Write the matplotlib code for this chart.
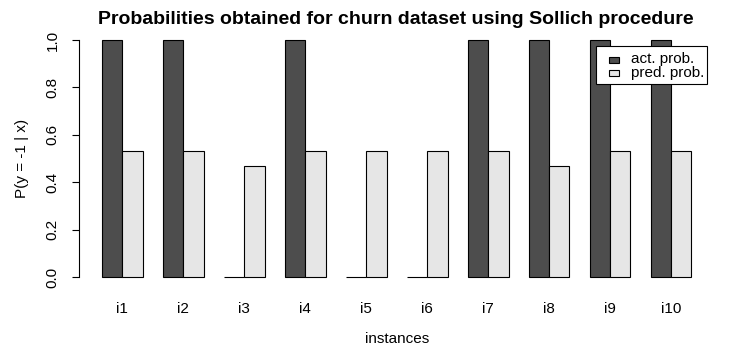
import matplotlib
matplotlib.use("Agg")
import matplotlib.pyplot as plt
from matplotlib.patches import Rectangle
import numpy as np

plt.rcParams['font.family'] = ['Liberation Sans', 'DejaVu Sans']

instances = ["i1", "i2", "i3", "i4", "i5", "i6", "i7", "i8", "i9", "i10"]
act_prob = [1, 1, 0, 1, 0, 0, 1, 1, 1, 1]
pred_prob = [0.533, 0.533, 0.467, 0.533, 0.533, 0.533, 0.533, 0.467, 0.533, 0.533]
series_names = ["act. prob.", "pred. prob."]
yticks = [0.0, 0.2, 0.4, 0.6, 0.8, 1.0]

W, H = 755, 359
fig = plt.figure(figsize=(W / 100, H / 100), dpi=100)
left, right, top, bottom = 78.5, 715, 30.5, 286.5
ax = fig.add_axes([left / W, 1 - bottom / H, (right - left) / W, (bottom - top) / H])

dark = "#4d4d4d"
light = "#e6e6e6"
n = len(instances)
x0 = np.arange(n) * 3 + 1
ax.bar(x0 + 0.5, act_prob, width=1, color=dark, edgecolor="black", linewidth=0.8)
ax.bar(x0 + 1.5, pred_prob, width=1, color=light, edgecolor="black", linewidth=0.8)

ax.set_xlim(-0.16, 31.16)
ax.set_ylim(-0.04, 1.04)
for s in ["top", "right", "bottom"]:
    ax.spines[s].set_visible(False)
ax.spines["left"].set_bounds(0, 1)
ax.spines["left"].set_linewidth(0.8)
ax.set_yticks(yticks)
ax.set_yticklabels([f"{v:.1f}" for v in yticks], rotation=90, va="center", fontsize=11)
ax.tick_params(axis="y", length=5, width=0.8, pad=8.5)
ax.set_xticks(x0 + 1)
ax.set_xticklabels(instances, fontsize=11)
ax.tick_params(axis="x", length=0, pad=11.5)

fig.text(396 / W, 1 - 20 / H, "Probabilities obtained for churn dataset using Sollich procedure",
         ha="center", va="center", fontsize=14, fontweight="bold")
fig.text(397 / W, 1 - 339 / H, "instances", ha="center", va="center", fontsize=11)
fig.text(22 / W, 1 - 158 / H, "P(y = -1 | x)", ha="center", va="center", rotation=90, fontsize=11)

# legend drawn R-style (box with overflowing text)
def fx(px):
    return px / W
def fy(py):
    return 1 - py / H
fig.patches.append(Rectangle((fx(596), fy(84)), fx(707) - fx(596), fy(46) - fy(84),
                             transform=fig.transFigure, facecolor="white", edgecolor="black",
                             linewidth=0.8, zorder=5))
for i, (name, col) in enumerate(zip(series_names, [dark, light])):
    yc = 59.5 + i * 13
    fig.patches.append(Rectangle((fx(609), fy(yc + 3)), fx(619) - fx(609), fy(yc - 3) - fy(yc + 3),
                                 transform=fig.transFigure, facecolor=col, edgecolor="black",
                                 linewidth=0.8, zorder=6))
    fig.text(fx(631), fy(yc), name, ha="left", va="center", fontsize=11, zorder=7)

fig.savefig("out.png", dpi=100)
